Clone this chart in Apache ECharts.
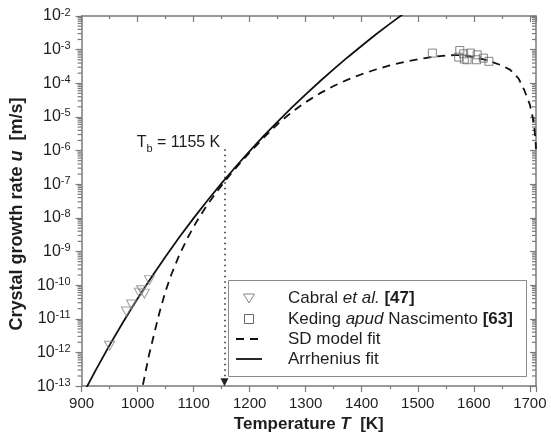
<!DOCTYPE html>
<html>
<head>
<meta charset="utf-8">
<script src="https://cdn.jsdelivr.net/npm/echarts@6/dist/echarts.min.js"></script>
<style>
  html, body { margin: 0; padding: 0; background: #fff; }
  #chart { width: 551px; height: 438px; }
</style>
</head>
<body>
<div id="chart"></div>
<script>
const FONT = '"Liberation Sans", Arial, Helvetica, sans-serif';

// Axis ranges: temperature in K, growth rate in m/s (log scale)
const tempMin = 900, tempMax = 1711, tempStep = 100;
const rateMin = 1e-13, rateMax = 1e-2;

// Cabral et al. [47] — [T (K), u (m/s)]
const cabralData = [
  [950, 1.58e-12], [980, 1.65e-11], [989, 2.66e-11], [1003, 6.0e-11],
  [1007, 7.1e-11], [1012, 5.6e-11], [1021, 1.41e-10]
];

// Keding apud Nascimento [63]
const kedingData = [
  [1526, 7.9e-4], [1573, 6.0e-4], [1575, 9.4e-4], [1582, 7.5e-4],
  [1583, 5.25e-4], [1588, 5.0e-4], [1594, 7.9e-4], [1605, 5.0e-4],
  [1606, 7.0e-4], [1617, 5.6e-4], [1627, 4.5e-4]
];

// SD model fit curve
const sdFit = [
  [1005, 4.27e-14], [1009, 1.00e-13], [1020, 7.94e-13], [1030, 3.89e-12],
  [1040, 1.78e-11], [1050, 6.76e-11], [1060, 2.04e-10], [1075, 8.32e-10],
  [1090, 2.69e-9], [1105, 7.59e-9], [1120, 1.91e-8], [1140, 5.62e-8],
  [1160, 1.51e-7], [1180, 3.76e-7], [1200, 8.83e-7], [1225, 2.42e-6],
  [1250, 6.17e-6], [1275, 1.38e-5], [1300, 2.75e-5], [1325, 5.01e-5],
  [1350, 8.32e-5], [1375, 1.29e-4], [1400, 1.86e-4], [1425, 2.57e-4],
  [1450, 3.39e-4], [1475, 4.27e-4], [1500, 5.13e-4], [1525, 6.03e-4],
  [1550, 6.68e-4], [1565, 6.89e-4], [1580, 6.84e-4], [1600, 6.03e-4],
  [1625, 4.79e-4], [1650, 3.39e-4], [1665, 2.51e-4], [1680, 1.38e-4],
  [1690, 6.31e-5], [1700, 2.34e-5], [1705, 1.00e-5], [1708, 4.68e-6],
  [1710, 2.24e-6], [1711, 1.12e-6]
];

// Arrhenius fit curve
const arrheniusFit = [
  [905, 6.92e-14], [925, 2.94e-13], [950, 1.65e-12], [975, 8.45e-12],
  [1000, 4.00e-11], [1025, 1.75e-10], [1050, 7.16e-10], [1075, 2.74e-9],
  [1100, 9.84e-9], [1125, 3.35e-8], [1150, 1.08e-7], [1175, 3.31e-7],
  [1200, 9.68e-7], [1225, 2.72e-6], [1250, 7.29e-6], [1275, 1.89e-5],
  [1300, 4.71e-5], [1325, 1.13e-4], [1350, 2.64e-4], [1375, 5.97e-4],
  [1400, 1.31e-3], [1425, 2.81e-3], [1450, 5.83e-3], [1475, 1.18e-2]
];

// Breakdown temperature T_b and the vertical extent of its marker
const tB = 1155;
const tBTop = 1.1e-6, tBBottom = 1.3e-13;

// Minor tick positions for the log axes (2..9 × 10^n)
const minorRates = [];
for (let e = -13; e < -2; e++) {
  for (let m = 2; m <= 9; m++) minorRates.push([tempMin, Number((m * Math.pow(10, e)).toPrecision(3))]);
}

const NAMES = {
  cabral: 'Cabral et al. [47]',
  keding: 'Keding apud Nascimento [63]',
  sd: 'SD model fit',
  arr: 'Arrhenius fit'
};

const AXIS_COLOR = '#7a7a7a';
const TEXT_COLOR = '#1e1e1e';
const TRI_COLOR = '#858585';
const SQ_COLOR = '#666666';

// ---- legend box (drawn as graphic elements) ----
const LG = { x: 228, y: 280, w: 298, h: 96, iconL: 236, iconR: 262, textX: 288, rows: [298.5, 319, 339, 359] };
const legendRich = {
  r: { fontFamily: FONT, fontSize: 17, fill: TEXT_COLOR },
  i: { fontFamily: FONT, fontSize: 17, fill: TEXT_COLOR, fontStyle: 'italic' },
  b: { fontFamily: FONT, fontSize: 17, fill: TEXT_COLOR, fontWeight: 'bold' }
};
const legendLabels = [
  '{r|Cabral }{i|et al.}{b| [47]}',
  '{r|Keding }{i|apud}{r| Nascimento }{b|[63]}',
  '{r|SD model fit}',
  '{r|Arrhenius fit}'
];
const iconCx = (LG.iconL + LG.iconR) / 2;
const legendGraphics = [
  { type: 'rect', z: 50, shape: { x: LG.x + 0.5, y: LG.y + 0.5, width: LG.w, height: LG.h },
    style: { fill: '#fff', stroke: '#8a8a8a', lineWidth: 1 } },
  { type: 'polygon', z: 51,
    shape: { points: [[iconCx - 5.5, LG.rows[0] - 4.5], [iconCx + 5.5, LG.rows[0] - 4.5], [iconCx, LG.rows[0] + 4.5]] },
    style: { fill: 'none', stroke: TRI_COLOR, lineWidth: 1 } },
  { type: 'rect', z: 51, shape: { x: iconCx - 4.5, y: LG.rows[1] - 4.5, width: 9, height: 9 },
    style: { fill: 'none', stroke: SQ_COLOR, lineWidth: 1 } },
  { type: 'line', z: 51, shape: { x1: LG.iconL, y1: LG.rows[2], x2: LG.iconR, y2: LG.rows[2] },
    style: { stroke: '#111', lineWidth: 1.8, lineDash: [8, 6] } },
  { type: 'line', z: 51, shape: { x1: LG.iconL, y1: LG.rows[3], x2: LG.iconR, y2: LG.rows[3] },
    style: { stroke: '#111', lineWidth: 1.8 } }
].concat(legendLabels.map((t, k) => ({
  type: 'text', z: 51,
  style: { text: t, x: LG.textX, y: LG.rows[k], verticalAlign: 'middle', align: 'left',
           fontFamily: FONT, fontSize: 17, fill: TEXT_COLOR, rich: legendRich }
})));

const chart = echarts.init(document.getElementById('chart'), null, { renderer: 'canvas' });

const option = {
  animation: false,
  backgroundColor: '#fff',
  grid: { left: 81, right: 15, top: 16, bottom: 50, containLabel: false },
  graphic: legendGraphics,
  xAxis: [
    {
      type: 'value', position: 'bottom',
      min: tempMin, max: tempMax, interval: tempStep,
      name: 'Temperature {i|T}  [K]',
      nameLocation: 'middle', nameGap: 25,
      nameTextStyle: {
        fontFamily: FONT, fontSize: 17, fontWeight: 'bold', color: TEXT_COLOR,
        rich: { i: { fontFamily: FONT, fontSize: 17, fontWeight: 'bold', fontStyle: 'italic', color: TEXT_COLOR } }
      },
      axisLine: { show: true, onZero: false, lineStyle: { color: AXIS_COLOR, width: 1.5 } },
      axisTick: { show: true, inside: false, length: 6, lineStyle: { color: AXIS_COLOR, width: 1.2 } },
      minorTick: { show: true, splitNumber: 2, length: 3, lineStyle: { color: AXIS_COLOR, width: 1.2 } },
      axisLabel: { fontFamily: FONT, fontSize: 15, color: TEXT_COLOR, margin: 10, showMaxLabel: false,
                   formatter: v => (v % tempStep === 0 ? String(v) : '') },
      splitLine: { show: false }
    },
    {
      type: 'value', position: 'top',
      min: tempMin, max: tempMax, interval: tempStep,
      axisLine: { show: true, onZero: false, lineStyle: { color: AXIS_COLOR, width: 1.5 } },
      axisTick: { show: true, inside: true, length: 6, lineStyle: { color: AXIS_COLOR, width: 1.2 } },
      minorTick: { show: true, splitNumber: 2, length: 3, lineStyle: { color: AXIS_COLOR, width: 1.2 } },
      axisLabel: { show: false },
      splitLine: { show: false }
    }
  ],
  yAxis: [
    {
      type: 'log', logBase: 10, position: 'left',
      min: rateMin, max: rateMax, interval: 1,
      name: 'Crystal growth rate {i|u}  [m/s]',
      nameLocation: 'middle', nameGap: 46,
      nameTextStyle: {
        fontFamily: FONT, fontSize: 18, fontWeight: 'bold', color: TEXT_COLOR,
        padding: [0, 26, 0, 0],
        rich: { i: { fontFamily: FONT, fontSize: 18, fontWeight: 'bold', fontStyle: 'italic', color: TEXT_COLOR } }
      },
      axisLine: { show: true, onZero: false, lineStyle: { color: AXIS_COLOR, width: 1.5 } },
      axisTick: { show: true, inside: false, length: 6, lineStyle: { color: AXIS_COLOR, width: 1.2 } },
      minorTick: { show: false },
      axisLabel: {
        margin: 11,
        formatter: v => '{b|10}{s|' + Math.round(Math.log10(v)) + '}',
        rich: {
          b: { fontFamily: FONT, fontSize: 16, color: TEXT_COLOR, lineHeight: 18 },
          s: { fontFamily: FONT, fontSize: 11, color: TEXT_COLOR, verticalAlign: 'top', lineHeight: 18 }
        }
      },
      splitLine: { show: false }
    },
    {
      type: 'log', logBase: 10, position: 'right',
      min: rateMin, max: rateMax, interval: 1,
      axisLine: { show: true, onZero: false, lineStyle: { color: AXIS_COLOR, width: 1.5 } },
      axisTick: { show: true, inside: true, length: 6, lineStyle: { color: AXIS_COLOR, width: 1.2 } },
      minorTick: { show: false },
      axisLabel: { show: false },
      splitLine: { show: false }
    }
  ],
  series: [
    {
      // minor ticks of the log axes (left: outward, right: inward)
      type: 'custom',
      silent: true,
      clip: false,
      xAxisIndex: 0, yAxisIndex: 0,
      data: minorRates,
      renderItem: (params, api) => {
        const v = api.value(1);
        const l = api.coord([tempMin, v]);
        const r = api.coord([tempMax, v]);
        const st = { stroke: AXIS_COLOR, lineWidth: 1.2 };
        return {
          type: 'group',
          children: [
            { type: 'line', shape: { x1: l[0] - 4, y1: l[1], x2: l[0], y2: l[1] }, style: st },
            { type: 'line', shape: { x1: r[0] - 4, y1: r[1], x2: r[0], y2: r[1] }, style: st }
          ]
        };
      },
      z: 1
    },
    {
      name: NAMES.arr,
      type: 'line',
      data: arrheniusFit,
      showSymbol: false, symbol: 'none',
      clip: true,
      lineStyle: { color: '#111', width: 1.8, type: 'solid' },
      itemStyle: { color: '#111' },
      z: 3,
      markLine: {
        silent: true,
        symbol: ['none', 'triangle'],
        symbolSize: 8,
        lineStyle: { color: '#222', width: 1.5, type: [1.5, 4] },
        label: {
          show: true,
          position: 'start',
          distance: 2,
          offset: [-46, 7],
          formatter: '{t|T}{s|b}{n| = ' + tB + ' K}',
          rich: {
            t: { fontFamily: FONT, fontSize: 16, color: TEXT_COLOR, lineHeight: 18 },
            s: { fontFamily: FONT, fontSize: 11, color: TEXT_COLOR, verticalAlign: 'bottom', lineHeight: 23 },
            n: { fontFamily: FONT, fontSize: 16, color: TEXT_COLOR, lineHeight: 18 }
          }
        },
        data: [[ { coord: [tB, tBTop] }, { coord: [tB, tBBottom] } ]]
      }
    },
    {
      name: NAMES.sd,
      type: 'line',
      data: sdFit,
      showSymbol: false, symbol: 'none',
      clip: true,
      lineStyle: { color: '#111', width: 1.8, type: [8, 6] },
      itemStyle: { color: '#111' },
      z: 3
    },
    {
      name: NAMES.cabral,
      type: 'scatter',
      data: cabralData,
      symbol: 'triangle',
      symbolRotate: 180,
      symbolSize: [10, 9],
      itemStyle: { color: 'rgba(255,255,255,0)', borderColor: TRI_COLOR, borderWidth: 1 },
      z: 4
    },
    {
      name: NAMES.keding,
      type: 'scatter',
      data: kedingData,
      symbol: 'rect',
      symbolSize: 8,
      itemStyle: { color: 'rgba(255,255,255,0)', borderColor: SQ_COLOR, borderWidth: 1 },
      z: 4
    }
  ]
};

chart.setOption(option);
</script>
</body>
</html>
